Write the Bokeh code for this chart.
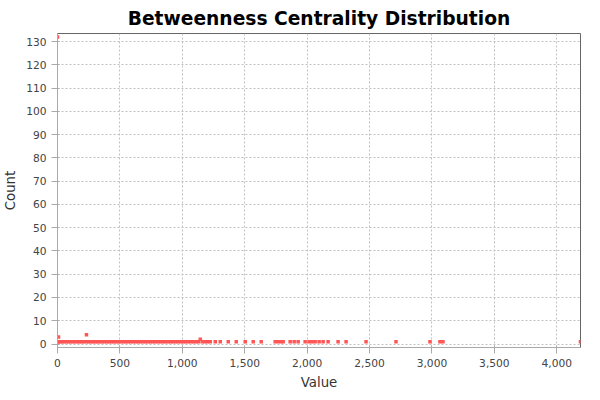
from bokeh.plotting import figure
from bokeh.embed import file_html
from bokeh.resources import INLINE
from bokeh.models import NumeralTickFormatter, SingleIntervalTicker, Range1d

dense_x = [0, 8, 20, 36, 52, 70, 88, 104, 122, 140, 160, 176, 196, 212, 232, 250, 268, 286, 304,
           322, 340, 358, 376, 396, 414, 432, 452, 470, 490, 508, 528, 548, 566, 586, 606, 626,
           646, 664, 684, 704, 724, 744, 764, 784, 804, 826, 846, 866, 886, 906, 926, 946, 966,
           988, 1008, 1028, 1048, 1070, 1090, 1110, 1130, 1160, 1180, 1200]
sparse_x = [1224, 1264, 1304, 1368, 1432, 1504, 1568, 1632, 1744, 1768, 1792, 1808, 1864, 1896,
            1928, 1984, 2016, 2040, 2064, 2096, 2128, 2168, 2248, 2312, 2472, 2712, 2984, 3064,
            3088, 4190]
extra_x = [0, 8, 232, 1144]
extra_y = [132, 3, 4, 2]

xs = dense_x + sparse_x + extra_x
ys = [1] * (len(dense_x) + len(sparse_x)) + extra_y

p = figure(width=584, height=392, output_backend="svg", toolbar_location=None,
           title="Betweenness Centrality Distribution",
           x_range=Range1d(0, 4190), y_range=Range1d(-1.5, 133.5))
p.scatter(xs, ys, marker="square", size=3.5, color="#ff5555", line_color=None)

p.title.align = "center"
p.title.text_font = "DejaVu Sans"
p.title.text_font_size = "14pt"
p.title.text_font_style = "bold"
p.title.text_color = "#000000"
p.xaxis.axis_label = "Value"
p.yaxis.axis_label = "Count"
for ax in (p.xaxis[0], p.yaxis[0]):
    ax.axis_label_text_font = "DejaVu Sans"
    ax.axis_label_text_font_style = "normal"
    ax.axis_label_text_font_size = "10pt"
    ax.axis_label_text_color = "#333333"
    ax.major_label_text_font = "DejaVu Sans"
    ax.major_label_text_font_size = "8pt"
    ax.major_label_text_color = "#444444"
    ax.minor_tick_line_color = None
    ax.axis_line_color = "#aaaaaa"
    ax.major_tick_line_color = "#aaaaaa"
p.xaxis.ticker = SingleIntervalTicker(interval=500)
p.yaxis.ticker = SingleIntervalTicker(interval=10)
p.xaxis.formatter = NumeralTickFormatter(format="0,0")
for g in (p.xgrid, p.ygrid):
    g.grid_line_color = "#c0c0c0"
    g.grid_line_dash = "2 2"
p.outline_line_color = "#666666"
p.min_border_right = 4
p.min_border_left = 56

open("out.html", "w").write(file_html(p, INLINE))
